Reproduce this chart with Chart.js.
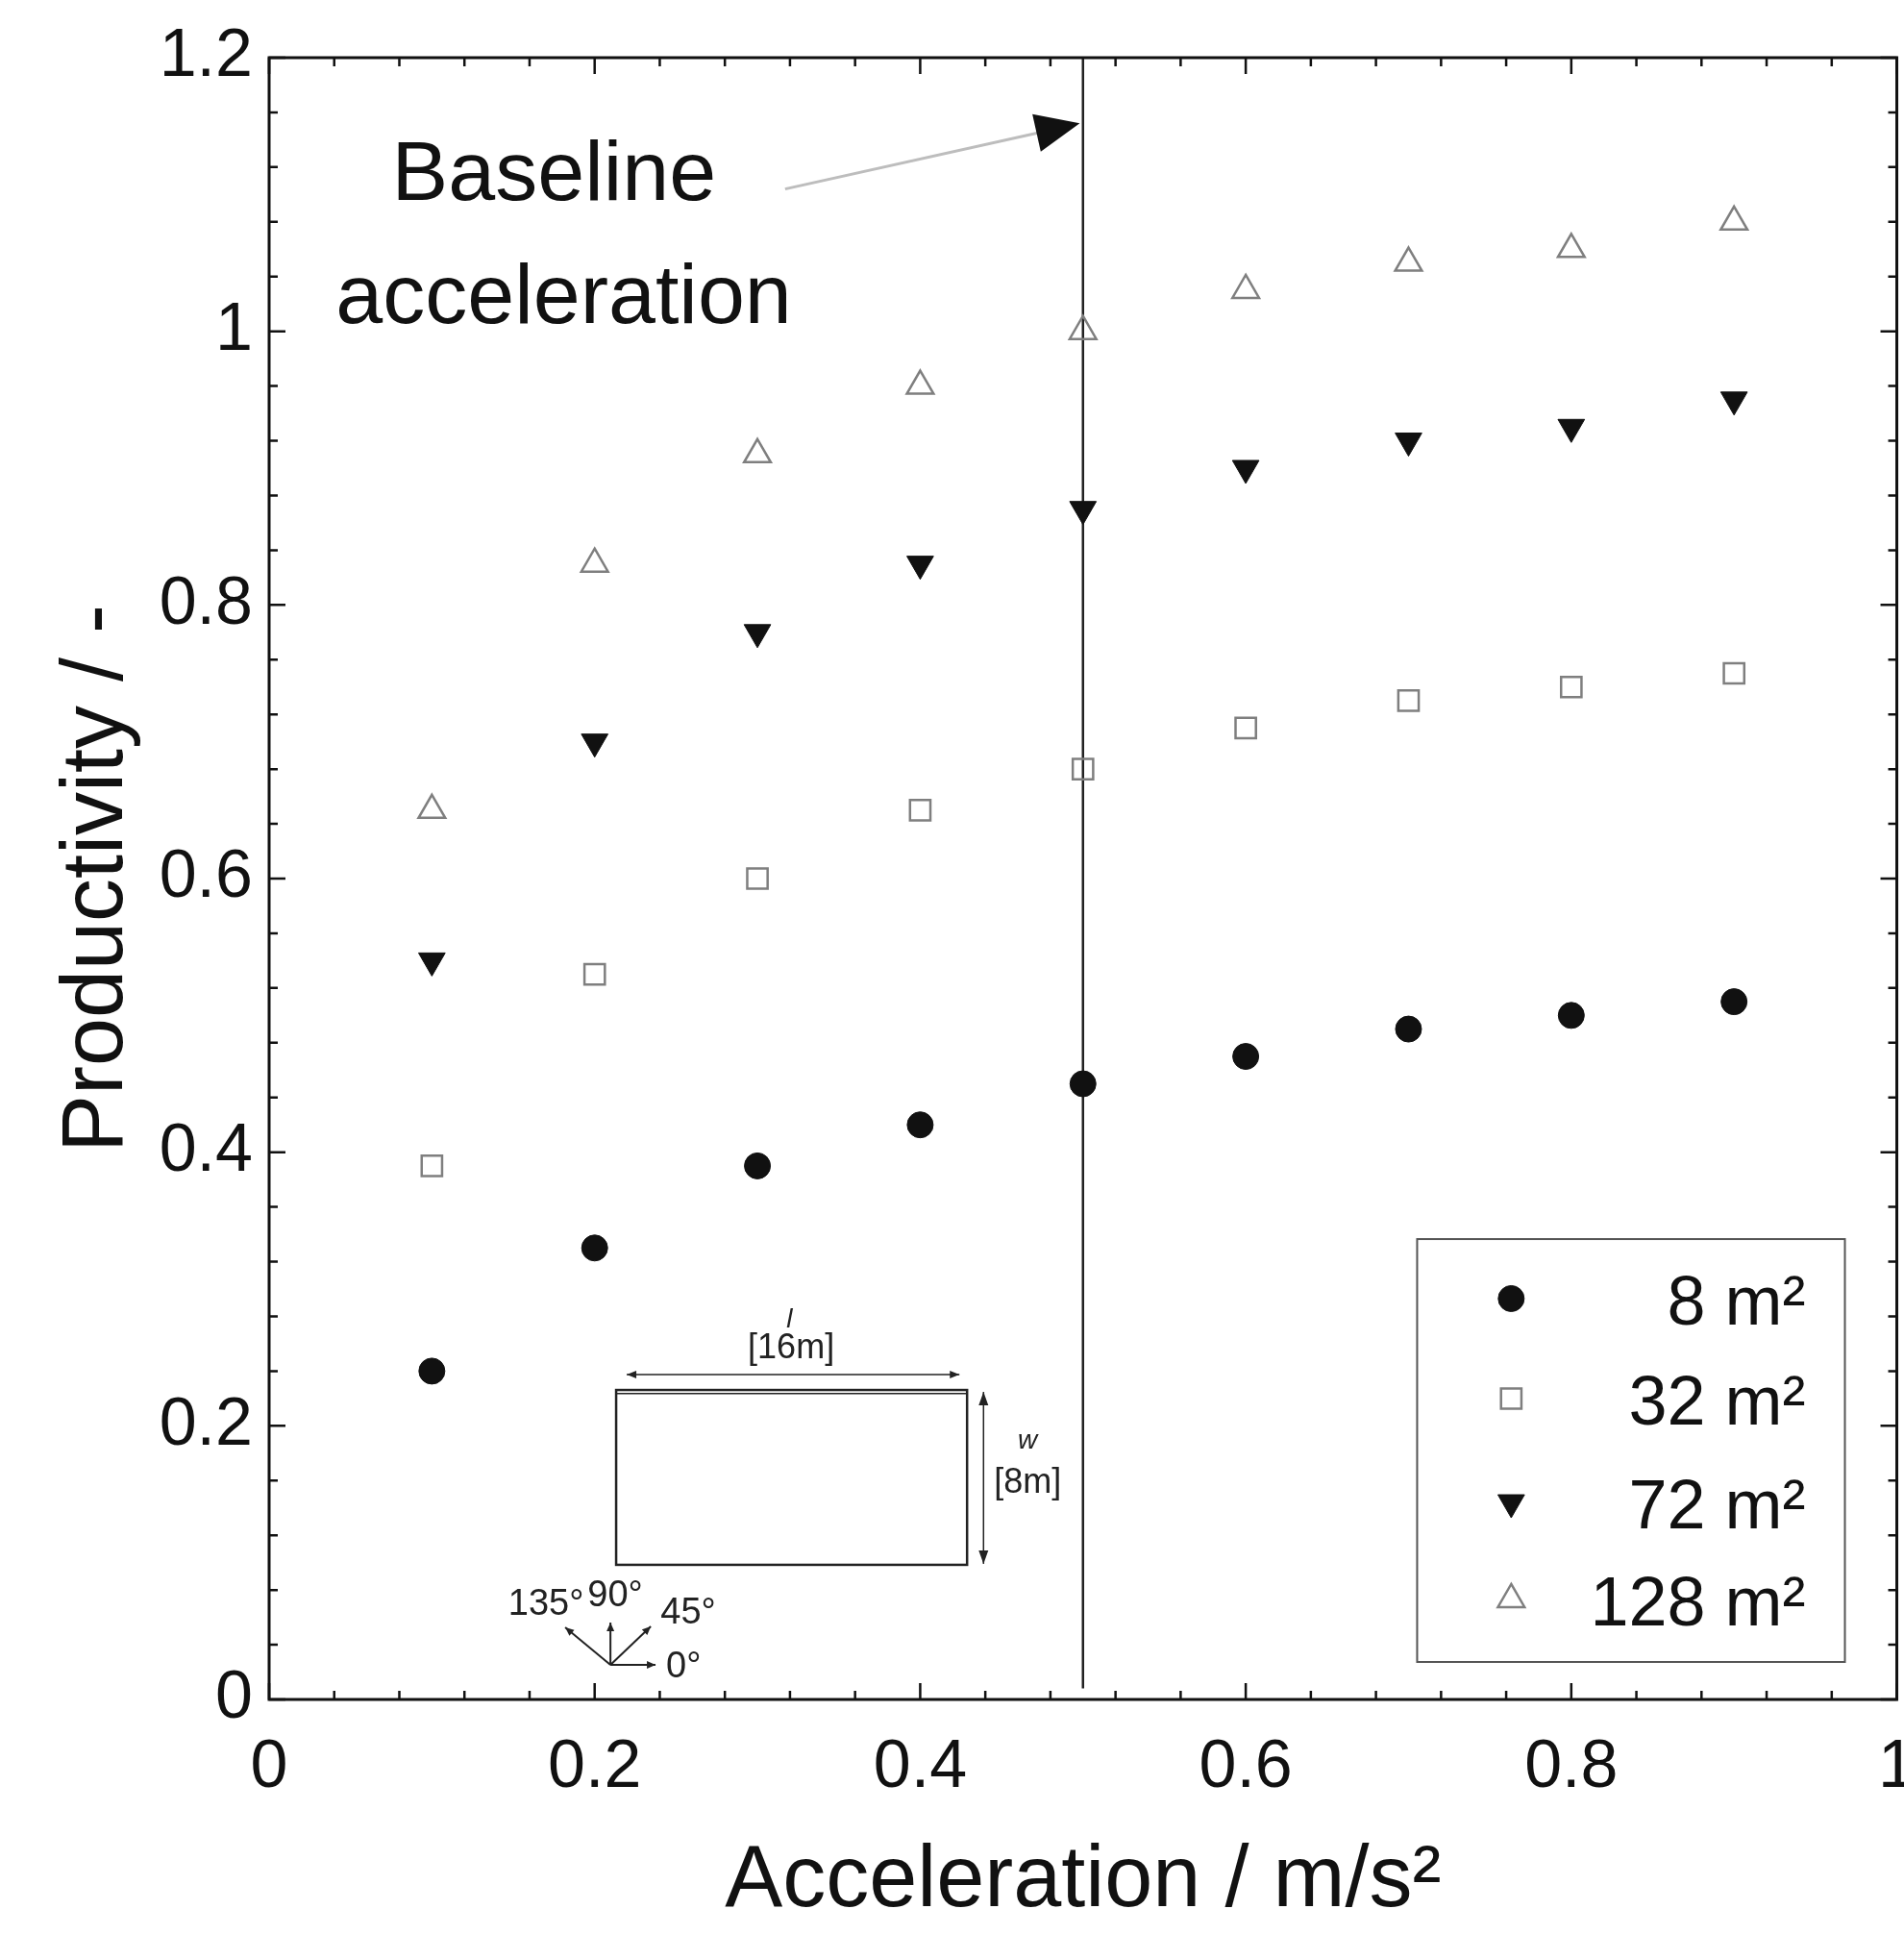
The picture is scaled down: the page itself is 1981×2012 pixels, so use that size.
<!DOCTYPE html>
<html>
<head>
<meta charset="utf-8">
<script src="https://cdn.jsdelivr.net/npm/chart.js@4/dist/chart.umd.min.js"></script>
<style>
  html, body { margin: 0; padding: 0; background: #fff; overflow: hidden; }
  canvas { display: block; }
</style>
</head>
<body>
<canvas id="prodChart" width="2023" height="2012"></canvas>
<script>
// values
const accel = [0.1, 0.2, 0.3, 0.4, 0.5, 0.6, 0.7, 0.8, 0.9];
const area8 = [0.24, 0.33, 0.39, 0.42, 0.45, 0.47, 0.49, 0.50, 0.51];
const area32 = [0.39, 0.53, 0.60, 0.65, 0.68, 0.71, 0.73, 0.74, 0.75];
const area72 = [0.54, 0.70, 0.78, 0.83, 0.87, 0.90, 0.92, 0.93, 0.95];
const area128 = [0.65, 0.83, 0.91, 0.96, 1.00, 1.03, 1.05, 1.06, 1.08];
const seriesNames = ['8 m²', '32 m²', '72 m²', '128 m²'];
const xTicks = [0, 0.2, 0.4, 0.6, 0.8, 1];
const xTickLabels = ['0', '0.2', '0.4', '0.6', '0.8', '1'];
const yTicks = [0, 0.2, 0.4, 0.6, 0.8, 1, 1.2];
const yTickLabels = ['0', '0.2', '0.4', '0.6', '0.8', '1', '1.2'];
const baselineAccel = 0.5;

const FONT = '"Liberation Sans", Arial, Helvetica, sans-serif';
const INK = '#111';
const GREY = '#7f7f7f';

const toPoints = ys => accel.map((x, i) => ({ x: x, y: ys[i] }));

function arrowHead(ctx, x0, y0, x1, y1, len, half) {
    const a = Math.atan2(y1 - y0, x1 - x0);
    ctx.beginPath();
    ctx.moveTo(x1, y1);
    ctx.lineTo(x1 - len * Math.cos(a) + half * Math.sin(a), y1 - len * Math.sin(a) - half * Math.cos(a));
    ctx.lineTo(x1 - len * Math.cos(a) - half * Math.sin(a), y1 - len * Math.sin(a) + half * Math.cos(a));
    ctx.closePath();
    ctx.fill();
}

function marker(ctx, ds, x, y) {
    ctx.fillStyle = ds.pointBackgroundColor;
    ctx.strokeStyle = ds.pointBorderColor;
    ctx.lineWidth = ds.pointBorderWidth;
    const opts = { pointStyle: ds.pointStyle, rotation: ds.pointRotation || 0, radius: ds.pointRadius, borderWidth: ds.pointBorderWidth };
    if (Chart.helpers && Chart.helpers.drawPoint) {
        Chart.helpers.drawPoint(ctx, opts, x, y);
    } else {
        ctx.beginPath();
        ctx.arc(x, y, ds.pointRadius, 0, Math.PI * 2);
        ctx.fill();
        ctx.stroke();
    }
}

const decorPlugin = {
    id: 'decor',
    beforeDatasetsDraw(chart) {
        const { ctx, scales: { x, y } } = chart;
        // baseline acceleration line
        ctx.save();
        ctx.strokeStyle = '#222';
        ctx.lineWidth = 2.5;
        ctx.beginPath();
        ctx.moveTo(x.getPixelForValue(baselineAccel), y.getPixelForValue(1.2));
        ctx.lineTo(x.getPixelForValue(baselineAccel), y.getPixelForValue(0.008));
        ctx.stroke();
        ctx.restore();
    },
    afterDraw(chart) {
        const { ctx, chartArea: a, scales: { x, y } } = chart;
        const px = v => x.getPixelForValue(v);
        const py = v => y.getPixelForValue(v);
        ctx.save();

        // frame
        ctx.strokeStyle = INK;
        ctx.lineWidth = 3;
        ctx.strokeRect(a.left, a.top, a.right - a.left, a.bottom - a.top);

        // inward ticks on all four sides, minor every 0.04
        ctx.lineWidth = 2.5;
        ctx.beginPath();
        for (let i = 0; i <= 25; i++) {
            const len = i % 5 === 0 ? 17 : 9;
            const X = px(i * 0.04);
            ctx.moveTo(X, a.bottom); ctx.lineTo(X, a.bottom - len);
            ctx.moveTo(X, a.top); ctx.lineTo(X, a.top + len);
        }
        for (let i = 0; i <= 30; i++) {
            const len = i % 5 === 0 ? 17 : 9;
            const Y = py(i * 0.04);
            ctx.moveTo(a.left, Y); ctx.lineTo(a.left + len, Y);
            ctx.moveTo(a.right, Y); ctx.lineTo(a.right - len, Y);
        }
        ctx.stroke();

        // "Baseline acceleration" note and arrow
        ctx.fillStyle = INK;
        ctx.font = '88px ' + FONT;
        ctx.textAlign = 'center';
        ctx.textBaseline = 'alphabetic';
        ctx.fillText('Baseline', px(0.175), py(1.096));
        ctx.fillText('acceleration', px(0.181), py(1.006));
        const tx0 = px(0.317), ty0 = py(1.104), tx1 = px(0.498), ty1 = py(1.152);
        ctx.strokeStyle = '#bdbdbd';
        ctx.lineWidth = 3;
        ctx.beginPath();
        ctx.moveTo(tx0, ty0);
        ctx.lineTo(tx1 - 30, ty1 + 7);
        ctx.stroke();
        ctx.fillStyle = INK;
        arrowHead(ctx, tx0, ty0, tx1, ty1, 46, 20);

        // inset: room sketch
        ctx.strokeStyle = '#222';
        ctx.lineWidth = 2.5;
        ctx.strokeRect(px(0.2132), py(0.2262), px(0.4288) - px(0.2132), py(0.0984) - py(0.2262));
        ctx.lineWidth = 1.5;
        ctx.beginPath();
        ctx.moveTo(px(0.2132), py(0.2236)); ctx.lineTo(px(0.4288), py(0.2236));
        ctx.stroke();
        // length dimension
        ctx.beginPath();
        ctx.moveTo(px(0.2197), py(0.2375)); ctx.lineTo(px(0.4241), py(0.2375));
        ctx.stroke();
        ctx.fillStyle = '#222';
        arrowHead(ctx, px(0.3), py(0.2375), px(0.2197), py(0.2375), 10, 4);
        arrowHead(ctx, px(0.3), py(0.2375), px(0.4241), py(0.2375), 10, 4);
        // width dimension
        ctx.beginPath();
        ctx.moveTo(px(0.4389), py(0.2248)); ctx.lineTo(px(0.4389), py(0.0991));
        ctx.stroke();
        arrowHead(ctx, px(0.4389), py(0.16), px(0.4389), py(0.2248), 14, 5);
        arrowHead(ctx, px(0.4389), py(0.16), px(0.4389), py(0.0991), 14, 5);

        ctx.textBaseline = 'middle';
        ctx.font = 'italic 28px ' + FONT;
        ctx.fillText('l', px(0.3196), py(0.2775));
        ctx.fillText('w', px(0.466), py(0.189));
        ctx.font = '36px ' + FONT;
        ctx.fillText('[16m]', px(0.3207), py(0.2564));
        ctx.fillText('[8m]', px(0.466), py(0.158));

        // inset: direction rose
        const cx = px(0.2097), cy = py(0.0253);
        const ends = [[0.2374, 0.0253], [0.2345, 0.0534], [0.2097, 0.0562], [0.1819, 0.0527]];
        ctx.lineWidth = 2;
        ends.forEach(([ex, ey]) => {
            ctx.beginPath();
            ctx.moveTo(cx, cy);
            ctx.lineTo(px(ex), py(ey));
            ctx.stroke();
            arrowHead(ctx, cx, cy, px(ex), py(ey), 9, 4);
        });
        ctx.font = '38px ' + FONT;
        ctx.fillText('135°', px(0.1701), py(0.0689));
        ctx.fillText('90°', px(0.2126), py(0.0752));
        ctx.fillText('45°', px(0.2575), py(0.0632));
        ctx.fillText('0°', px(0.2546), py(0.0232));

        // legend box
        ctx.strokeStyle = '#555';
        ctx.lineWidth = 2;
        ctx.strokeRect(px(0.7053), py(0.3365), px(0.9681) - px(0.7053), py(0.0274) - py(0.3365));
        const rows = [0.2930, 0.2199, 0.1440, 0.0731];
        chart.data.datasets.forEach((ds, i) => {
            marker(ctx, ds, px(0.7631), py(rows[i]));
            ctx.fillStyle = INK;
            ctx.font = '72px ' + FONT;
            ctx.textAlign = 'right';
            ctx.textBaseline = 'middle';
            ctx.fillText(ds.label, px(0.9439), py(rows[i]) + 7);
        });
        ctx.restore();
    }
};

new Chart(document.getElementById('prodChart'), {
    type: 'scatter',
    data: {
        datasets: [{
            label: seriesNames[0],
            data: toPoints(area8),
            pointStyle: 'circle',
            pointRadius: 13.5,
            pointBackgroundColor: INK,
            pointBorderColor: INK,
            pointBorderWidth: 1,
        }, {
            label: seriesNames[1],
            data: toPoints(area32),
            pointStyle: 'rect',
            pointRadius: 15,
            pointBackgroundColor: 'rgba(255,255,255,0)',
            pointBorderColor: GREY,
            pointBorderWidth: 2.5,
        }, {
            label: seriesNames[2],
            data: toPoints(area72),
            pointStyle: 'triangle',
            pointRotation: 180,
            pointRadius: 16,
            pointBackgroundColor: INK,
            pointBorderColor: INK,
            pointBorderWidth: 1,
        }, {
            label: seriesNames[3],
            data: toPoints(area128),
            pointStyle: 'triangle',
            pointRadius: 16,
            pointBackgroundColor: 'rgba(255,255,255,0)',
            pointBorderColor: GREY,
            pointBorderWidth: 2.5,
        }]
    },
    options: {
        responsive: false,
        animation: false,
        devicePixelRatio: 1,
        layout: { padding: { top: 60, right: 0, bottom: 0, left: 0 } },
        plugins: {
            legend: { display: false },
            tooltip: { enabled: false },
        },
        scales: {
            x: {
                type: 'linear',
                min: 0,
                max: 1,
                afterBuildTicks: s => { s.ticks = xTicks.map(v => ({ value: v })); },
                afterFit: s => { s.height = 244; },
                grid: { display: false, drawTicks: false },
                border: { display: false },
                ticks: {
                    color: INK,
                    font: { family: FONT, size: 70 },
                    padding: 30,
                    maxRotation: 0,
                    autoSkip: false,
                    callback: (v, i) => xTickLabels[i],
                },
                title: {
                    display: true,
                    text: 'Acceleration / m/s²',
                    color: INK,
                    font: { family: FONT, size: 90 },
                    padding: { top: 0, bottom: 0 },
                },
            },
            y: {
                type: 'linear',
                min: 0,
                max: 1.2,
                afterBuildTicks: s => { s.ticks = yTicks.map(v => ({ value: v })); },
                afterFit: s => { s.width = 280; },
                grid: { display: false, drawTicks: false },
                border: { display: false },
                ticks: {
                    color: INK,
                    font: { family: FONT, size: 70 },
                    padding: 17,
                    autoSkip: false,
                    callback: (v, i) => yTickLabels[i],
                },
                title: {
                    display: true,
                    text: 'Productivity / -',
                    color: INK,
                    font: { family: FONT, size: 90 },
                    padding: { top: 48, bottom: 0 },
                },
            }
        }
    },
    plugins: [decorPlugin]
});
</script>
</body>
</html>
